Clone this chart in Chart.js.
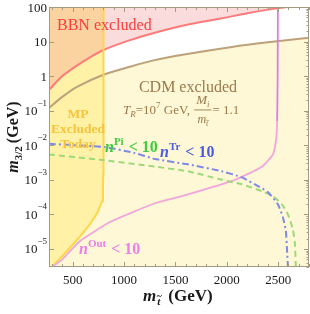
<!DOCTYPE html>
<html><head><meta charset="utf-8">
<script src="https://cdn.jsdelivr.net/npm/chart.js@4.4.0/dist/chart.umd.min.js"></script>
<style>html,body{margin:0;padding:0;background:#fff;overflow:hidden}canvas{display:block}</style>
</head><body>
<canvas id="c" width="310" height="314"></canvas>
<script>
// ---------- axes ----------
const X_MIN = 270, X_MAX = 2800, Y_MIN = 3e-6, Y_MAX = 100;
const X_TICKS = [500, 1000, 1500, 2000, 2500];
const X_TICK_LABELS = ['500', '1000', '1500', '2000', '2500'];
const Y_TICKS = [1e-5, 1e-4, 1e-3, 1e-2, 1e-1, 1, 10, 100];
const Y_TICK_LABELS = ['10^\u22125', '10^\u22124', '10^\u22123', '10^\u22122', '10^\u22121', '1', '10', '100'];

// ---------- curves (stop mass in GeV, gravitino mass in GeV) ----------
const bbnX = [270, 400, 523, 669, 800, 1058, 1300, 1600, 1953, 2200, 2400, 2595];
const bbnY = [0.4, 1.0, 1.85, 3.5, 5.7, 11, 18, 30, 47, 66, 84, 100];

const cdmX = [270, 406, 542, 800, 1058, 1300, 1600, 2050, 2400, 2800];
const cdmY = [0.12, 0.26, 0.49, 1.1, 1.87, 2.9, 4.3, 7.0, 9.5, 12.8];

const mpX = [309, 445, 572, 669, 747, 786, 795, 798, 800, 800, 800];
const mpY = [3.2e-6, 8.7e-6, 2.3e-5, 5.2e-5, 1.2e-4, 2.4e-4, 6e-4, 1.5e-3, 5e-3, 0.01, 100];

const outX = [299, 400, 572, 863, 1301, 1622, 2079, 2342, 2449, 2480, 2490, 2495, 2497];
const outY = [3e-6, 5e-6, 1.7e-5, 6e-5, 2.1e-4, 3.8e-4, 1e-3, 2.4e-3, 5.4e-3, 0.015, 0.05, 1, 100];

const trX = [270, 816, 1100, 1301, 1622, 1953, 2147, 2274, 2400, 2497, 2546, 2575, 2585, 2595];
const trY = [0.011, 8.8e-3, 6e-3, 4e-3, 2.8e-3, 1.76e-3, 1.18e-3, 7.4e-4, 4.4e-4, 1.96e-4, 8.3e-5, 3.3e-5, 1.1e-5, 3e-6];

const piX = [270, 766, 1301, 1622, 1953, 2147, 2342, 2449, 2536, 2595, 2643, 2663, 2672];
const piY = [5.4e-3, 3.8e-3, 2.4e-3, 1.76e-3, 1.0e-3, 7.4e-4, 4.7e-4, 3.35e-4, 1.96e-4, 1.0e-4, 3.7e-5, 1.4e-5, 3e-6];

function pts(xs, ys) { return xs.map((x, i) => ({ x: x, y: ys[i] })); }

const SERIF = '"Liberation Serif", "DejaVu Serif", serif';
function F(style, size) { return style + ' ' + size + 'px ' + SERIF; }

function drawRuns(c, x, y, runs, align) {
  let total = 0;
  for (const r of runs) { c.font = r[1]; total += c.measureText(r[0]).width + (r[3] || 0); }
  let cx = align === 'center' ? x - total / 2 : (align === 'right' ? x - total : x);
  const starts = [];
  for (const r of runs) {
    c.font = r[1];
    starts.push(cx);
    c.fillText(r[0], cx, y + (r[2] || 0));
    cx += c.measureText(r[0]).width + (r[3] || 0);
  }
  return { end: cx, starts: starts };
}
function tilde(c, x0, y0, w, lw) {
  c.beginPath();
  c.moveTo(x0, y0 + 0.7);
  c.quadraticCurveTo(x0 + w * 0.25, y0 - 1.3, x0 + w * 0.5, y0);
  c.quadraticCurveTo(x0 + w * 0.75, y0 + 1.3, x0 + w, y0 - 0.7);
  c.lineWidth = lw; c.stroke();
}

const decor = {
  id: 'decor',
  beforeDraw(chart) {
    const c = chart.ctx; c.save(); c.fillStyle = '#fff'; c.fillRect(0, 0, chart.width, chart.height); c.restore();
  },
  afterDatasetsDraw(chart) {
    const c = chart.ctx, xs = chart.scales.x, ys = chart.scales.y, a = chart.chartArea;
    c.save();
    c.textBaseline = 'alphabetic';
    c.textAlign = 'left';
    // --- region labels ---
    c.fillStyle = '#FF3C3C';
    drawRuns(c, 57, 30, [['BBN excluded', F('', 16)]], 'left');

    c.fillStyle = '#9A7A4C';
    drawRuns(c, 188, 92, [['CDM excluded', F('', 16)]], 'center');
    const tr = drawRuns(c, 123, 114, [
      ['T', F('italic', 13)], ['R', F('italic', 9), 3], ['=10', F('', 13)], ['7', F('', 9), -6], [' GeV, ', F('', 13)]
    ], 'left');
    const fx = tr.end + 1;
    c.font = F('italic', 13); const mw = c.measureText('M').width;
    c.font = F('italic', 9); const iw = c.measureText('i').width;
    const barW = mw + iw + 4;
    drawRuns(c, fx + barW / 2, 104, [['M', F('italic', 13)], ['i', F('italic', 9), 3]], 'center');
    c.fillRect(fx, 109.5, barW, 0.9);
    const den = drawRuns(c, fx + barW / 2, 123, [['m', F('italic', 12)], ['t', F('italic', 8), 3]], 'center');
    c.strokeStyle = '#9A7A4C';
    tilde(c, den.starts[1] - 0.5, 120.5, 3.5, 0.6);
    drawRuns(c, fx + barW + 1, 114, [['= 1.1', F('', 13)]], 'left');

    c.fillStyle = '#F7C33C';
    drawRuns(c, 78, 118, [['MP', F('bold', 13.5)]], 'center');
    drawRuns(c, 78, 133, [['Excluded', F('bold', 13.5)]], 'center');
    drawRuns(c, 78, 148, [['Today', F('bold', 13.5)]], 'center');

    c.fillStyle = '#3FCB3F';
    drawRuns(c, 105, 152, [['n', F('italic bold', 16)], ['Pi', F('bold', 11), -7, 1], [' < 10', F('bold', 16)]], 'left');
    c.fillStyle = '#4B5CE0';
    drawRuns(c, 160, 157, [['n', F('italic bold', 16)], ['Tr', F('bold', 11), -7, 1], [' < 10', F('bold', 16)]], 'left');
    c.fillStyle = '#EA7EEA';
    drawRuns(c, 79, 254, [['n', F('italic bold', 16)], ['Out', F('bold', 11), -7, 1], [' < 10', F('bold', 16)]], 'left');

    // --- frame ---
    c.strokeStyle = '#A39C80'; c.lineWidth = 1;
    c.strokeRect(a.left + 0.5, a.top + 0.5, a.right - a.left - 1, a.bottom - a.top - 1);
    // x ticks (major + minor every 100)
    c.beginPath();
    for (let v = 300; v <= X_MAX; v += 100) {
      const px = Math.round(xs.getPixelForValue(v)) + 0.5;
      const len = (v % 500 === 0) ? 5 : 3;
      c.moveTo(px, a.bottom); c.lineTo(px, a.bottom - len);
      c.moveTo(px, a.top); c.lineTo(px, a.top + len);
    }
    // y ticks
    for (let e = -6; e <= 2; e++) {
      for (let m = 1; m <= 9; m++) {
        const v = m * Math.pow(10, e);
        if (v < Y_MIN || v > Y_MAX) continue;
        const py = Math.round(ys.getPixelForValue(v)) + 0.5;
        if (m === 1) {
          c.moveTo(a.left, py); c.lineTo(a.left + 5, py);
          c.moveTo(a.right, py); c.lineTo(a.right - 5, py);
        } else {
          c.moveTo(a.right, py); c.lineTo(a.right - 2.5, py);
        }
      }
    }
    c.stroke();

    // --- tick labels ---
    c.fillStyle = '#1a1a1a';
    X_TICKS.forEach((v, i) => {
      drawRuns(c, xs.getPixelForValue(v), 284, [[X_TICK_LABELS[i], F('', 13)]], 'center');
    });
    Y_TICKS.forEach((v, i) => {
      const py = ys.getPixelForValue(v);
      const parts = Y_TICK_LABELS[i].split('^');
      const runs = [[parts[0], F('', 13), 0]];
      if (parts[1]) runs.push([parts[1], F('', 9), -9.5]);
      drawRuns(c, 47, py + 4.5, runs, 'right');
    });

    // --- axis titles ---
    const xt = drawRuns(c, 143, 301, [['m', F('italic bold', 17), 0, 1], ['t', F('italic bold', 11), 4, 8], ['(GeV)', F('bold', 17)]], 'left');
    c.strokeStyle = '#1a1a1a';
    tilde(c, xt.starts[1] - 0.5, 296, 5, 1);

    c.save();
    c.translate(18, 137);
    c.rotate(-Math.PI / 2);
    drawRuns(c, 0, 0, [['m', F('italic bold', 16)], ['3/2', F('bold', 11), 4, 3], ['(GeV)', F('bold', 16)]], 'center');
    c.restore();

    c.restore();
  }
};

new Chart(document.getElementById('c'), {
  type: 'line',
  data: {
    datasets: [
      { label: 'n Tr < 10', data: pts(trX, trY), borderColor: '#7F8AE6', borderWidth: 2, borderDash: [7, 3, 2, 3], fill: false, order: 0 },
      { label: 'n Pi < 10', data: pts(piX, piY), borderColor: '#9CD97A', borderWidth: 2, borderDash: [6, 4], fill: false, order: 1 },
      { label: 'n Out < 10', data: pts(outX, outY), borderColor: '#F2A6DC', borderWidth: 1.8, fill: false, order: 2,
        segment: { borderColor: ctx => (ctx.p0.parsed.y >= 0.02 && ctx.p1.parsed.y >= 0.02) ? '#DC7CEA' : undefined } },
      { label: 'MP', data: pts(mpX, mpY), borderColor: '#FFD54A', borderWidth: 2, fill: false, order: 3, tension: 0 },
      { label: 'BBN', data: pts(bbnX, bbnY), borderColor: '#FF7A7A', borderWidth: 2, fill: false, order: 4, tension: 0.3 },
      { label: 'CDM', data: pts(cdmX, cdmY), borderColor: '#BCA17A', borderWidth: 2, fill: false, order: 5, tension: 0.3 },
      { label: 'BBN excluded', data: pts(bbnX, bbnY), fill: 'end', backgroundColor: 'rgba(240,150,150,0.33)', borderWidth: 0, order: 8, tension: 0.3 },
      { label: 'MP excluded', data: [{ x: X_MIN, y: Y_MIN }].concat(pts(mpX, mpY)), fill: 'end', backgroundColor: '#FFF2A6', borderWidth: 0, order: 9, tension: 0 },
      { label: 'CDM excluded', data: pts(cdmX, cdmY), fill: 'start', backgroundColor: '#FFF8D6', borderWidth: 0, order: 10, tension: 0.3 }
    ]
  },
  options: {
    responsive: false, animation: false, devicePixelRatio: 1,
    layout: { padding: { left: 49, top: 7, right: 1, bottom: 47 } },
    plugins: { legend: { display: false }, tooltip: { enabled: false } },
    elements: { point: { radius: 0 }, line: { tension: 0.15 } },
    scales: {
      x: { type: 'linear', min: X_MIN, max: X_MAX, display: false,
           afterBuildTicks: s => { s.ticks = X_TICKS.map(v => ({ value: v })); } },
      y: { type: 'logarithmic', min: Y_MIN, max: Y_MAX, display: false,
           afterBuildTicks: s => { s.ticks = Y_TICKS.map(v => ({ value: v })); } }
    }
  },
  plugins: [decor]
});
</script>
</body></html>
